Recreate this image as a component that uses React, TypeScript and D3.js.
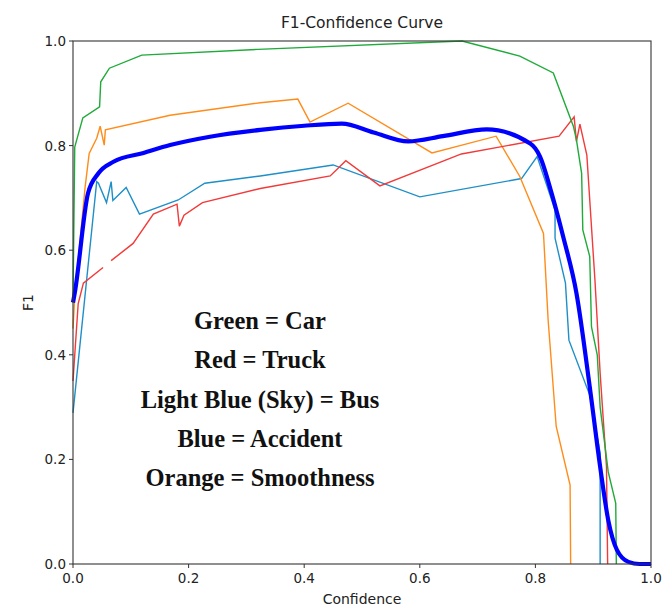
import React from "react";
import * as d3 from "d3";

type P = [number, number];

const greenCar: P[] = [
  [0, 0.5], [0.003, 0.797], [0.017, 0.853], [0.046, 0.874], [0.048, 0.922], [0.063, 0.948],
  [0.119, 0.973], [0.32, 0.984], [0.673, 1.0], [0.773, 0.971], [0.831, 0.939], [0.866, 0.836],
  [0.871, 0.811], [0.88, 0.747], [0.882, 0.639], [0.894, 0.588], [0.897, 0.454], [0.907, 0.4],
  [0.912, 0.3], [0.926, 0.176], [0.939, 0.116], [0.94, 0.0],
];

const redTruck: P[] = [
  [0, 0.35], [0.009, 0.498], [0.018, 0.537], [0.052, 0.567], [NaN, NaN], [0.066, 0.58], [0.104, 0.613],
  [0.139, 0.669], [0.18, 0.688], [0.184, 0.646], [0.192, 0.667], [0.224, 0.691], [0.324, 0.718],
  [0.445, 0.742], [0.472, 0.771], [0.531, 0.723], [0.672, 0.784], [0.841, 0.818], [0.867, 0.855],
  [0.871, 0.808], [0.877, 0.841], [0.889, 0.782], [0.903, 0.543], [0.912, 0.365], [0.923, 0.186],
  [0.925, 0.0],
];

const skyBus: P[] = [
  [0, 0.289], [0.041, 0.731], [0.044, 0.728], [0.058, 0.691], [0.066, 0.731], [0.069, 0.695],
  [0.092, 0.72], [0.115, 0.669], [0.182, 0.696], [0.228, 0.728], [0.324, 0.742], [0.45, 0.763],
  [0.6, 0.702], [0.776, 0.737], [0.803, 0.779], [0.834, 0.677], [0.834, 0.623], [0.852, 0.537],
  [0.858, 0.428], [0.894, 0.323], [0.912, 0.212], [0.912, 0.0],
];

const blueAccident: P[] = [
  [0, 0.5], [0.003, 0.518], [0.026, 0.709], [0.044, 0.747], [0.07, 0.769], [0.122, 0.786],
  [0.168, 0.801], [0.237, 0.817], [0.324, 0.83], [0.4, 0.838], [0.465, 0.842], [0.52, 0.825],
  [0.58, 0.808], [0.64, 0.818], [0.716, 0.831], [0.791, 0.804], [0.808, 0.779], [0.828, 0.709],
  [0.848, 0.626], [0.871, 0.518], [0.894, 0.339], [0.912, 0.186], [0.926, 0.084], [0.941, 0.027],
  [0.961, 0.004], [0.98, 0.0], [1.0, 0.0],
];

const orangeSmooth: P[] = [
  [0, 0.45], [0.003, 0.511], [0.021, 0.721], [0.028, 0.785], [0.041, 0.814], [0.047, 0.837],
  [0.054, 0.801], [0.056, 0.83], [0.168, 0.858], [0.324, 0.882], [0.389, 0.889], [0.41, 0.845],
  [0.476, 0.881], [0.621, 0.786], [0.732, 0.818], [0.773, 0.741], [0.814, 0.632], [0.822, 0.467],
  [0.836, 0.263], [0.86, 0.151], [0.861, 0.0],
];

const ticks = [0, 0.2, 0.4, 0.6, 0.8, 1.0];
const legendLines = [
  "Green = Car",
  "Red = Truck",
  "Light Blue (Sky) = Bus",
  "Blue = Accident",
  "Orange = Smoothness",
];

export default function App() {
  const W = 663, H = 608;
  const L = 73, R = 651, T = 41, B = 564;
  const x = d3.scaleLinear().domain([0, 1]).range([L, R]);
  const y = d3.scaleLinear().domain([0, 1]).range([B, T]);
  const line = d3
    .line<P>()
    .defined((d) => !isNaN(d[0]))
    .x((d) => x(d[0]))
    .y((d) => y(d[1]));
  const smooth = d3
    .line<P>()
    .x((d) => x(d[0]))
    .y((d) => y(d[1]))
    .curve(d3.curveMonotoneX);

  const series: { data: P[]; color: string }[] = [
    { data: skyBus, color: "#1f8fc8" },
    { data: orangeSmooth, color: "#ff8c1a" },
    { data: redTruck, color: "#f23a3a" },
    { data: greenCar, color: "#1faa3a" },
  ];

  const font = "'DejaVu Sans', sans-serif";
  return (
    <svg
      width={W}
      height={H}
      style={{ position: "absolute", left: 0, top: 0, background: "#fff" }}
      fontFamily={font}
    >
      <rect x={0} y={0} width={W} height={H} fill="#fff" />
      <text x={(L + R) / 2} y={28} textAnchor="middle" fontSize={15.5} fill="#222">
        F1-Confidence Curve
      </text>
      {series.map((s, i) => (
        <path key={i} d={line(s.data) || ""} fill="none" stroke={s.color} strokeWidth={1.4} />
      ))}
      <path d={smooth(blueAccident) || ""} fill="none" stroke="#0000ff" strokeWidth={4.2} strokeLinejoin="round" />
      <rect x={L} y={T} width={R - L} height={B - T} fill="none" stroke="#333" strokeWidth={1.1} />
      {ticks.map((t) => (
        <g key={"x" + t}>
          <line x1={x(t)} x2={x(t)} y1={B} y2={B + 4} stroke="#333" />
          <text x={x(t)} y={B + 19} textAnchor="middle" fontSize={13.5} fill="#222">
            {t.toFixed(1)}
          </text>
        </g>
      ))}
      {ticks.map((t) => (
        <g key={"y" + t}>
          <line x1={L - 4} x2={L} y1={y(t)} y2={y(t)} stroke="#333" />
          <text x={L - 7} y={y(t) + 5} textAnchor="end" fontSize={13.5} fill="#222">
            {t.toFixed(1)}
          </text>
        </g>
      ))}
      <text x={(L + R) / 2} y={604} textAnchor="middle" fontSize={14} fill="#222">
        Confidence
      </text>
      <text
        x={0}
        y={0}
        transform={`translate(33,${(T + B) / 2}) rotate(-90)`}
        textAnchor="middle"
        fontSize={14}
        fill="#222"
      >
        F1
      </text>
      {legendLines.map((s, i) => (
        <text
          key={s}
          x={260}
          y={329 + i * 39.3}
          textAnchor="middle"
          fontFamily="'Liberation Serif', 'DejaVu Serif', serif"
          fontWeight="bold"
          fontSize={24.5}
          fill="#111"
        >
          {s}
        </text>
      ))}
    </svg>
  );
}
